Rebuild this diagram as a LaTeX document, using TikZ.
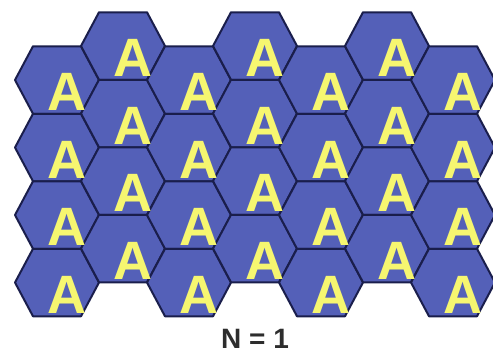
\documentclass[tikz,border=0pt]{standalone}
\usepackage{fontspec}
\setmainfont{Liberation Sans}
\definecolor{hexfill}{RGB}{84,96,184}
\definecolor{hexline}{RGB}{26,30,76}
\definecolor{ayellow}{RGB}{246,246,112}
\definecolor{labelgray}{RGB}{45,45,45}
\begin{document}
\begin{tikzpicture}[x=1pt,y=-1pt,
  hexcell/.style={fill=hexfill,draw=hexline,line width=2pt,line join=round},
  letterA/.style={font=\fontsize{54}{54}\selectfont\bfseries,text=ayellow,inner sep=0pt,anchor=base},
  caption/.style={font=\fontsize{28}{28}\selectfont\bfseries,text=labelgray,inner sep=0pt,anchor=base}]
\useasboundingbox (0,0) rectangle (493,354);
\foreach \c in {0,...,6}{
  \pgfmathsetmacro\cx{57+66*\c}
  \pgfmathsetmacro\cy{ifthenelse(mod(\c,2)==0,80,46)}
  \foreach \r in {0,...,3}{
    \pgfmathsetmacro\yy{\cy+67.5*\r}
    \draw[hexcell] (\cx-42,\yy) -- (\cx-24,\yy-33.75) -- (\cx+24,\yy-33.75)
      -- (\cx+42,\yy) -- (\cx+24,\yy+33.75) -- (\cx-24,\yy+33.75) -- cycle;
  }
}
\foreach \c in {0,...,6}{
  \pgfmathsetmacro\cx{57+66*\c}
  \pgfmathsetmacro\cy{ifthenelse(mod(\c,2)==0,80,46)}
  \foreach \r in {0,...,3}{
    \pgfmathsetmacro\yy{\cy+67.5*\r}
    \node[letterA] (A-\c-\r) at (\cx+9.5,\yy+30.5) {A};
  }
}
\node[caption] (label) at (255,348) {N = 1};
\end{tikzpicture}
\end{document}
